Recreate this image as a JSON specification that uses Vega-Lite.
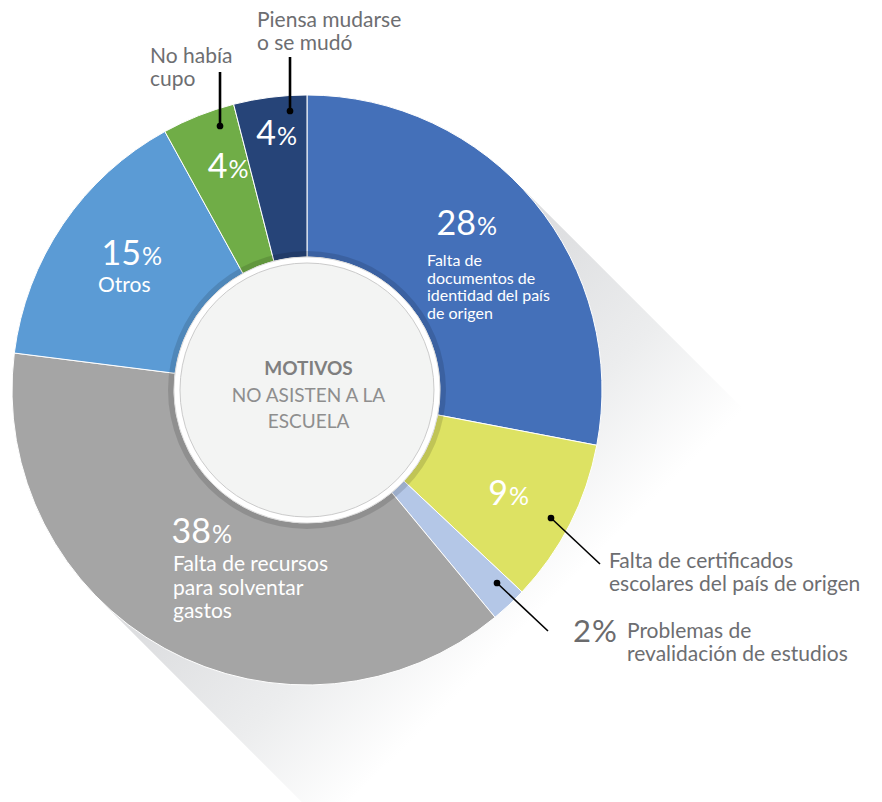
{
  "$schema": "https://vega.github.io/schema/vega-lite/v6.json",
  "width": 882,
  "height": 802,
  "padding": 0,
  "autosize": {"type": "none"},
  "background": "white",
  "config": {"view": {"stroke": null}, "font": "Lato"},
  "datasets": {
    "motivos": [
      {"clave": "documentos", "motivo": "Falta de documentos de identidad del país de origen", "pct": 28, "orden": 1},
      {"clave": "certificados", "motivo": "Falta de certificados escolares del país de origen", "pct": 9, "orden": 2},
      {"clave": "revalidacion", "motivo": "Problemas de revalidación de estudios", "pct": 2, "orden": 3},
      {"clave": "recursos", "motivo": "Falta de recursos para solventar gastos", "pct": 38, "orden": 4},
      {"clave": "otros", "motivo": "Otros", "pct": 15, "orden": 5},
      {"clave": "cupo", "motivo": "No había cupo", "pct": 4, "orden": 6},
      {"clave": "mudanza", "motivo": "Piensa mudarse o se mudó", "pct": 4, "orden": 7}
    ],
    "sombra": [
      {"x": 0, "y": 0},
      {"x": 79, "y": -79}
    ],
    "pct_dentro": [
      {"clave": "documentos", "x": 57.29, "y": 52.54},
      {"clave": "certificados", "x": 68.14, "y": -38.98},
      {"clave": "recursos", "x": -32.54, "y": -51.86},
      {"clave": "otros", "x": -56.27, "y": 42.37},
      {"clave": "cupo", "x": -26.95, "y": 71.86},
      {"clave": "mudanza", "x": -10.51, "y": 83.05}
    ],
    "pct_fuera": [
      {"clave": "revalidacion", "x": 96.27, "y": -85.42}
    ],
    "desc_chica": [
      {"texto": "Falta de\ndocumentos de\nidentidad del país\nde origen", "x": 40.68, "y": 42.03}
    ],
    "desc_blanca": [
      {"texto": "Falta de recursos\npara solventar\ngastos", "x": -45.42, "y": -61.36},
      {"texto": "Otros", "x": -70.85, "y": 33.22}
    ],
    "desc_fuera": [
      {"texto": "Piensa mudarse\no se mudó", "x": -16.95, "y": 123.05},
      {"texto": "No había\ncupo", "x": -53.22, "y": 110.85},
      {"texto": "Falta de certificados\nescolares del país de origen", "x": 102.37, "y": -60.34},
      {"texto": "Problemas de\nrevalidación de estudios", "x": 108.47, "y": -84.07}
    ],
    "guias": [
      {"clave": "mudanza", "tipo": "vertical", "x": -5.76, "y": 94.58, "x2": -5.76, "y2": 112.88},
      {"clave": "cupo", "tipo": "vertical", "x": -29.49, "y": 89.49, "x2": -29.49, "y2": 107.8},
      {"clave": "certificados", "tipo": "diagonal", "x": 82.71, "y": -43.39, "x2": 99.32, "y2": -58.98},
      {"clave": "revalidacion", "tipo": "diagonal", "x": 64.41, "y": -65.42, "x2": 81.69, "y2": -81.69}
    ],
    "centro": [
      {"titulo": "MOTIVOS", "sub": "NO ASISTEN A LA\nESCUELA", "x": 0.5, "y": 5.08, "y_sub": -4.07}
    ]
  },
  "layer": [
    {
      "data": {"name": "sombra"},
      "mark": {
        "type": "trail",
        "color": {
          "gradient": "linear", "x1": 0, "y1": 0, "x2": 1, "y2": 1,
          "stops": [
            {"offset": 0, "color": "#DBDCDE"},
            {"offset": 0.358, "color": "#DBDCDE"},
            {"offset": 0.415, "color": "#DEDFE1"},
            {"offset": 0.53, "color": "#ECEDEE"},
            {"offset": 0.635, "color": "#FFFFFF"},
            {"offset": 1, "color": "#FFFFFF"}
          ]
        }
      },
      "encoding": {
        "x": {"field": "x", "type": "quantitative", "scale": {"domain": [-104.07, 194.92], "nice": false, "zero": false}, "axis": null},
        "y": {"field": "y", "type": "quantitative", "scale": {"domain": [-139.66, 132.2], "nice": false, "zero": false}, "axis": null},
        "size": {"value": 590}
      }
    },
    {
      "data": {"name": "motivos"},
      "mark": {"type": "arc", "radius": 295, "radius2": 133, "stroke": "white", "strokeWidth": 1},
      "encoding": {
        "x": {"datum": 0, "type": "quantitative", "scale": {"domain": [-104.07, 194.92], "nice": false, "zero": false}, "axis": null},
        "y": {"datum": 0, "type": "quantitative", "scale": {"domain": [-139.66, 132.2], "nice": false, "zero": false}, "axis": null},
        "theta": {"field": "pct", "type": "quantitative", "stack": true},
        "order": {"field": "orden", "type": "quantitative"},
        "color": {
          "field": "clave", "type": "nominal", "legend": null,
          "scale": {
            "domain": ["documentos", "certificados", "revalidacion", "recursos", "otros", "cupo", "mudanza"],
            "range": ["#4470B9", "#DDE263", "#B4C7E7", "#A5A5A5", "#5B9BD5", "#70AD47", "#264478"]
          }
        }
      }
    },
    {
      "data": {"values": [{}]},
      "mark": {"type": "arc", "radius": 139, "radius2": 133, "theta": 0, "theta2": 6.2832, "fill": "#000000", "fillOpacity": 0.13},
      "encoding": {
        "x": {"datum": 0, "type": "quantitative", "scale": {"domain": [-104.07, 194.92], "nice": false, "zero": false}, "axis": null},
        "y": {"datum": 0, "type": "quantitative", "scale": {"domain": [-139.66, 132.2], "nice": false, "zero": false}, "axis": null}
      }
    },
    {
      "data": {"values": [{}]},
      "mark": {"type": "arc", "radius": 133, "theta": 0, "theta2": 6.2832, "fill": "#FFFFFF", "stroke": "#D6D6D6", "strokeWidth": 0.8},
      "encoding": {
        "x": {"datum": 0, "type": "quantitative", "scale": {"domain": [-104.07, 194.92], "nice": false, "zero": false}, "axis": null},
        "y": {"datum": 0, "type": "quantitative", "scale": {"domain": [-139.66, 132.2], "nice": false, "zero": false}, "axis": null}
      }
    },
    {
      "data": {"values": [{}]},
      "mark": {"type": "arc", "radius": 127, "theta": 0, "theta2": 6.2832, "fill": "#F3F4F3", "stroke": "#CBCBCB", "strokeWidth": 1},
      "encoding": {
        "x": {"datum": 0, "type": "quantitative", "scale": {"domain": [-104.07, 194.92], "nice": false, "zero": false}, "axis": null},
        "y": {"datum": 0, "type": "quantitative", "scale": {"domain": [-139.66, 132.2], "nice": false, "zero": false}, "axis": null}
      }
    },
    {
      "data": {"name": "centro"},
      "mark": {"type": "text", "align": "center", "baseline": "alphabetic", "fontSize": 19, "fontWeight": "bold", "color": "#7F7F7F"},
      "encoding": {
        "x": {"field": "x", "type": "quantitative", "scale": {"domain": [-104.07, 194.92], "nice": false, "zero": false}, "axis": null},
        "y": {"field": "y", "type": "quantitative", "scale": {"domain": [-139.66, 132.2], "nice": false, "zero": false}, "axis": null},
        "text": {"field": "titulo"}
      }
    },
    {
      "data": {"name": "centro"},
      "mark": {"type": "text", "align": "center", "baseline": "alphabetic", "fontSize": 19, "lineHeight": 26, "lineBreak": "\n", "color": "#8E8E8E"},
      "encoding": {
        "x": {"field": "x", "type": "quantitative", "scale": {"domain": [-104.07, 194.92], "nice": false, "zero": false}, "axis": null},
        "y": {"field": "y_sub", "type": "quantitative", "scale": {"domain": [-139.66, 132.2], "nice": false, "zero": false}, "axis": null},
        "text": {"field": "sub"}
      }
    },
    {
      "data": {"name": "pct_dentro"},
      "transform": [{"lookup": "clave", "from": {"data": {"name": "motivos"}, "key": "clave", "fields": ["pct"]}}],
      "mark": {"type": "text", "align": "right", "baseline": "alphabetic", "fontSize": 34, "color": "#FFFFFF"},
      "encoding": {
        "x": {"field": "x", "type": "quantitative", "scale": {"domain": [-104.07, 194.92], "nice": false, "zero": false}, "axis": null},
        "y": {"field": "y", "type": "quantitative", "scale": {"domain": [-139.66, 132.2], "nice": false, "zero": false}, "axis": null},
        "text": {"field": "pct", "type": "quantitative"}
      }
    },
    {
      "data": {"name": "pct_dentro"},
      "mark": {"type": "text", "align": "left", "baseline": "alphabetic", "fontSize": 25, "dx": 1, "color": "#FFFFFF"},
      "encoding": {
        "x": {"field": "x", "type": "quantitative", "scale": {"domain": [-104.07, 194.92], "nice": false, "zero": false}, "axis": null},
        "y": {"field": "y", "type": "quantitative", "scale": {"domain": [-139.66, 132.2], "nice": false, "zero": false}, "axis": null},
        "text": {"value": "%"}
      }
    },
    {
      "data": {"name": "pct_fuera"},
      "transform": [{"lookup": "clave", "from": {"data": {"name": "motivos"}, "key": "clave", "fields": ["pct"]}}],
      "mark": {"type": "text", "align": "right", "baseline": "alphabetic", "fontSize": 31, "color": "#6B6B6D"},
      "encoding": {
        "x": {"field": "x", "type": "quantitative", "scale": {"domain": [-104.07, 194.92], "nice": false, "zero": false}, "axis": null},
        "y": {"field": "y", "type": "quantitative", "scale": {"domain": [-139.66, 132.2], "nice": false, "zero": false}, "axis": null},
        "text": {"field": "pct", "type": "quantitative"}
      }
    },
    {
      "data": {"name": "pct_fuera"},
      "mark": {"type": "text", "align": "left", "baseline": "alphabetic", "fontSize": 31, "dx": 1, "color": "#6B6B6D"},
      "encoding": {
        "x": {"field": "x", "type": "quantitative", "scale": {"domain": [-104.07, 194.92], "nice": false, "zero": false}, "axis": null},
        "y": {"field": "y", "type": "quantitative", "scale": {"domain": [-139.66, 132.2], "nice": false, "zero": false}, "axis": null},
        "text": {"value": "%"}
      }
    },
    {
      "data": {"name": "desc_chica"},
      "mark": {"type": "text", "align": "left", "baseline": "alphabetic", "fontSize": 16, "lineHeight": 17.6, "lineBreak": "\n", "color": "#FFFFFF"},
      "encoding": {
        "x": {"field": "x", "type": "quantitative", "scale": {"domain": [-104.07, 194.92], "nice": false, "zero": false}, "axis": null},
        "y": {"field": "y", "type": "quantitative", "scale": {"domain": [-139.66, 132.2], "nice": false, "zero": false}, "axis": null},
        "text": {"field": "texto"}
      }
    },
    {
      "data": {"name": "desc_blanca"},
      "mark": {"type": "text", "align": "left", "baseline": "alphabetic", "fontSize": 21, "lineHeight": 23.5, "lineBreak": "\n", "color": "#FFFFFF"},
      "encoding": {
        "x": {"field": "x", "type": "quantitative", "scale": {"domain": [-104.07, 194.92], "nice": false, "zero": false}, "axis": null},
        "y": {"field": "y", "type": "quantitative", "scale": {"domain": [-139.66, 132.2], "nice": false, "zero": false}, "axis": null},
        "text": {"field": "texto"}
      }
    },
    {
      "data": {"name": "desc_fuera"},
      "mark": {"type": "text", "align": "left", "baseline": "alphabetic", "fontSize": 21, "lineHeight": 23.4, "lineBreak": "\n", "color": "#6D6E71"},
      "encoding": {
        "x": {"field": "x", "type": "quantitative", "scale": {"domain": [-104.07, 194.92], "nice": false, "zero": false}, "axis": null},
        "y": {"field": "y", "type": "quantitative", "scale": {"domain": [-139.66, 132.2], "nice": false, "zero": false}, "axis": null},
        "text": {"field": "texto"}
      }
    },
    {
      "data": {"name": "guias"},
      "mark": {"type": "rule", "color": "#000000"},
      "encoding": {
        "x": {"field": "x", "type": "quantitative", "scale": {"domain": [-104.07, 194.92], "nice": false, "zero": false}, "axis": null},
        "y": {"field": "y", "type": "quantitative", "scale": {"domain": [-139.66, 132.2], "nice": false, "zero": false}, "axis": null},
        "x2": {"field": "x2"},
        "y2": {"field": "y2"},
        "strokeWidth": {"field": "tipo", "type": "nominal", "scale": {"domain": ["vertical", "diagonal"], "range": [2.6, 1.6]}, "legend": null}
      }
    },
    {
      "data": {"name": "guias"},
      "mark": {"type": "point", "filled": true, "color": "#000000", "opacity": 1, "size": 45},
      "encoding": {
        "x": {"field": "x", "type": "quantitative", "scale": {"domain": [-104.07, 194.92], "nice": false, "zero": false}, "axis": null},
        "y": {"field": "y", "type": "quantitative", "scale": {"domain": [-139.66, 132.2], "nice": false, "zero": false}, "axis": null}
      }
    }
  ]
}
